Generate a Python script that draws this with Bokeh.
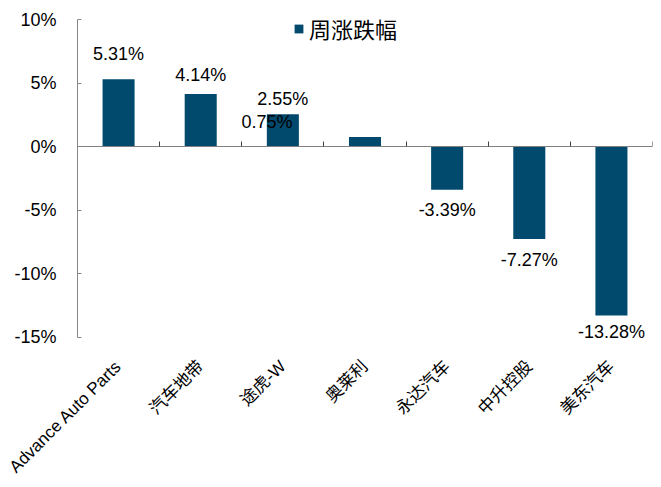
import math
from bokeh.plotting import figure
from bokeh.models import (Range1d, LinearAxis, FixedTicker, PrintfTickFormatter,
                          ColumnDataSource, LabelSet, Legend, LegendItem)
from bokeh.core.properties import value
from bokeh.embed import file_html
from bokeh.resources import INLINE

# ---- data ----
categories = ["Advance Auto Parts", "汽车地带", "途虎-W", "奥莱利", "永达汽车", "中升控股", "美东汽车"]
weekly_change = [5.31, 4.14, 2.55, 0.75, -3.39, -7.27, -13.28]
y_ticks = [-15, -10, -5, 0, 5, 10]
series_name = "周涨跌幅"

# ---- style / layout ----
BAR = "#024A6D"
AXIS = "#868686"
LATIN = "Liberation Sans"
CJK = "Noto Sans CJK SC"
Y_VIEW_LOW = -16.9          # a little room under the axis for the last value label
label_dx = [0, 0, 0, -98, 0, 0, 0]
label_dy = [25, 19, 15, 15, -20, -21, -17]

n = len(categories)
value_text = [f"{v:.2f}%" for v in weekly_change]

p = figure(width=661, height=487, x_range=categories,
           y_range=Range1d(Y_VIEW_LOW, y_ticks[-1]),
           output_backend="svg", toolbar_location=None,
           min_border_left=77, min_border_right=9, min_border_top=19,
           min_border_bottom=126)
p.outline_line_color = None
p.xgrid.visible = False
p.ygrid.visible = False
p.background_fill_color = "white"
p.border_fill_color = "white"

src = ColumnDataSource(dict(cat=categories, val=weekly_change, txt=value_text,
                            dx=label_dx, dy=label_dy))
bars = p.vbar(x="cat", top="val", width=0.39, source=src,
              fill_color=BAR, line_color=None)

# y axis
ya = p.yaxis[0]
ya.bounds = (y_ticks[0], y_ticks[-1])
ya.ticker = FixedTicker(ticks=y_ticks)
ya.formatter = PrintfTickFormatter(format="%d%%")
ya.major_tick_in = 4
ya.major_tick_out = 0
ya.minor_tick_in = 0
ya.minor_tick_out = 0
ya.axis_line_color = AXIS
ya.major_tick_line_color = AXIS
ya.major_label_standoff = 21
ya.major_label_text_font = LATIN
ya.major_label_text_font_size = "18px"
ya.major_label_text_color = "black"

# category labels axis (rotated labels only)
xa = p.xaxis[0]
xa.axis_line_color = None
xa.major_tick_line_color = None
xa.minor_tick_line_color = None
xa.major_tick_in = 0
xa.major_tick_out = 0
xa.major_label_orientation = math.pi / 4
xa.major_label_standoff = 2
xa.major_label_text_font = f"{LATIN}, {CJK}"
xa.major_label_text_font_size = "17px"
xa.major_label_text_color = "black"

# zero-line axis with ticks between categories (synthetic coords)
zero_axis = LinearAxis(fixed_location=0,
                       ticker=FixedTicker(ticks=list(range(n + 1))),
                       major_tick_in=5, major_tick_out=0,
                       minor_tick_in=0, minor_tick_out=0,
                       major_label_overrides={i: "" for i in range(n + 1)},
                       axis_line_color="#808080", major_tick_line_color="#404040")
p.add_layout(zero_axis, "below")

# value labels
p.add_layout(LabelSet(x="cat", y="val", text="txt", source=src,
                      x_offset="dx", y_offset="dy",
                      text_align="center", text_baseline="middle",
                      text_font=value(LATIN), text_font_size="18px",
                      text_color="black"))

# legend
legend = Legend(items=[LegendItem(label=series_name, renderers=[bars])],
                location=(216, 317), orientation="horizontal",
                glyph_width=11, glyph_height=11, label_standoff=5,
                padding=0, margin=0, spacing=0,
                border_line_color=None, background_fill_alpha=0,
                label_text_font=CJK, label_text_font_size="22px",
                label_text_color="black")
p.add_layout(legend)

open("out.html", "w").write(file_html(p, INLINE))
